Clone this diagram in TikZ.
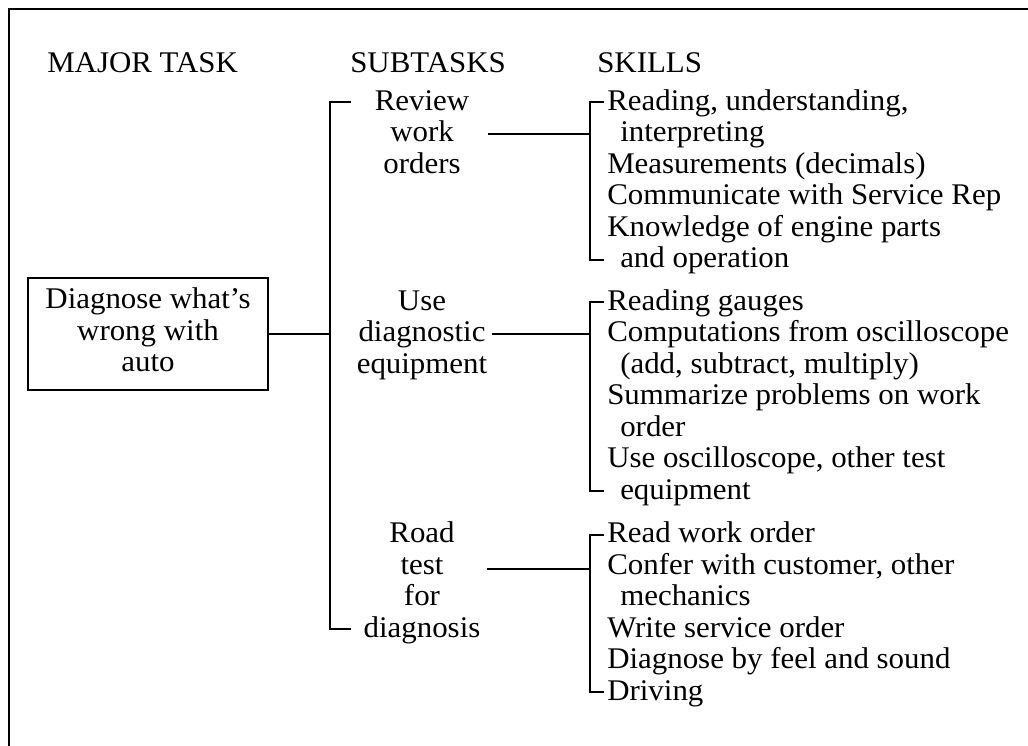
\documentclass[tikz,border=0pt]{standalone}
\usepackage{fontspec}
\setmainfont{Liberation Serif}[FakeStretch=1.03]
\begin{document}
\begin{tikzpicture}[x=0.75pt,y=-0.75pt,
  every node/.style={inner sep=0pt, font=\fontsize{22.5}{23.625}\selectfont},
  frame/.style={line width=1.9pt},
  conn/.style={line width=1.5pt},
  hdr/.style={anchor=base west},
  subt/.style={anchor=north, align=center},
  skill/.style={anchor=north west, align=left},
  taskbox/.style={draw, line width=1.5pt, align=center, minimum width=180pt, minimum height=84pt}]
\useasboundingbox (0,0) rectangle (1028,746);
\fill[white] (0,0) rectangle (1028,746);
% frame
\coordinate (fr1) at (1028,9);
\coordinate (fr2) at (9,9);
\coordinate (fr3) at (9,746);
\draw[frame] (fr1) -- (fr2) -- (fr3);
% headers
\node[hdr] (hmaj) at (47,72) {MAJOR TASK};
\node[hdr] (hsub) at (350,72) {SUBTASKS};
\node[hdr] (hski) at (597,72) {SKILLS};
% major task
\node[taskbox] (box) at (148,334) {\strut Diagnose what's\\\strut wrong with\\\strut auto};
% subtasks
\node[subt] (sub1) at (422,88) {\strut Review\\\strut work\\\strut orders};
\node[subt] (sub2) at (422,288) {\strut Use\\\strut diagnostic\\\strut equipment};
\node[subt] (sub3) at (422,520.5) {\strut Road\\\strut test\\\strut for\\\strut diagnosis};
% skills
\node[skill] (sk1) at (607,88) {\strut Reading, understanding,\\\strut\hspace*{9.75pt}interpreting\\\strut Measurements (decimals)\\\strut Communicate with Service Rep\\\strut Knowledge of engine parts\\\strut\hspace*{9.75pt}and operation};
\node[skill] (sk2) at (607,288) {\strut Reading gauges\\\strut Computations from oscilloscope\\\strut\hspace*{9.75pt}(add, subtract, multiply)\\\strut Summarize problems on work\\\strut\hspace*{9.75pt}order\\\strut Use oscilloscope, other test\\\strut\hspace*{9.75pt}equipment};
\node[skill] (sk3) at (607,520.5) {\strut Read work order\\\strut Confer with customer, other\\\strut\hspace*{9.75pt}mechanics\\\strut Write service order\\\strut Diagnose by feel and sound\\\strut Driving};
% subtask bar
\coordinate (bt) at (330,102);
\coordinate (bb) at (330,629);
\coordinate (btt) at (351,102);
\coordinate (bbt) at (351,629);
\draw[conn] (btt) -- (bt) -- (bb) -- (bbt);
\draw[conn] (box.east) -- (box.east -| bt);
% skill brackets
\coordinate (k1t) at (590,102);   \coordinate (k1b) at (590,259.5);
\coordinate (k2t) at (590,302);   \coordinate (k2b) at (590,491);
\coordinate (k3t) at (590,534.5); \coordinate (k3b) at (590,692);
\draw[conn] ([xshift=10.5pt]k1t) -- (k1t) -- (k1b) -- ([xshift=10.5pt]k1b);
\draw[conn] ([xshift=10.5pt]k2t) -- (k2t) -- (k2b) -- ([xshift=10.5pt]k2b);
\draw[conn] ([xshift=10.5pt]k3t) -- (k3t) -- (k3b) -- ([xshift=10.5pt]k3b);
% subtask to skills connectors
\coordinate (c1) at (488,134);
\coordinate (c2) at (492,334);
\coordinate (c3) at (487,569);
\draw[conn] (c1) -- (c1 -| k1t);
\draw[conn] (c2) -- (c2 -| k2t);
\draw[conn] (c3) -- (c3 -| k3t);
\end{tikzpicture}
\end{document}
